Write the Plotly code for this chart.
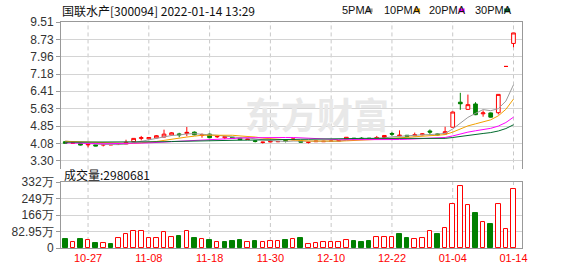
import plotly.graph_objects as go

# ---------------- data ----------------
dates = ["10-22", "10-25", "10-26", "10-27", "10-28", "10-29",
         "11-01", "11-02", "11-03", "11-04", "11-05",
         "11-08", "11-09", "11-10", "11-11", "11-12",
         "11-15", "11-16", "11-17", "11-18", "11-19",
         "11-22", "11-23", "11-24", "11-25", "11-26",
         "11-29", "11-30",
         "12-01", "12-02", "12-03",
         "12-06", "12-07", "12-08", "12-09", "12-10",
         "12-13", "12-14", "12-15", "12-16", "12-17",
         "12-20", "12-21", "12-22", "12-23", "12-24",
         "12-27", "12-28", "12-29", "12-30", "12-31",
         "01-04", "01-05", "01-06", "01-07",
         "01-10", "01-11", "01-12", "01-13", "01-14"]

opens = [4.15, 4.08, 4.07, 4.01, 4.01, 4.00, 4.01, 4.03, 4.05, 4.15,
         4.30, 4.28, 4.32, 4.36, 4.45, 4.50, 4.52, 4.58, 4.43, 4.49,
         4.37, 4.33, 4.35, 4.31, 4.25, 4.19, 4.12, 4.14, 4.15, 4.21,
         4.24, 4.19, 4.12, 4.15, 4.15, 4.16, 4.18, 4.27, 4.31, 4.31,
         4.31, 4.31, 4.34, 4.52, 4.41, 4.44, 4.42, 4.46, 4.63, 4.50,
         4.50, 4.80, 5.92, 5.60, 5.84, 5.40, 5.44, 5.45, 7.52, 8.55]
highs = [4.18, 4.12, 4.08, 4.05, 4.02, 4.04, 4.05, 4.06, 4.24, 4.31,
         4.41, 4.36, 4.45, 4.69, 4.58, 4.55, 4.81, 4.61, 4.52, 4.51,
         4.41, 4.40, 4.36, 4.33, 4.29, 4.21, 4.15, 4.19, 4.18, 4.24,
         4.29, 4.20, 4.15, 4.19, 4.19, 4.20, 4.22, 4.36, 4.32, 4.35,
         4.32, 4.41, 4.45, 4.58, 4.66, 4.45, 4.56, 4.53, 4.70, 4.52,
         4.82, 5.50, 6.34, 6.26, 5.92, 5.55, 5.46, 6.28, 7.52, 9.02]
lows = [4.07, 4.06, 3.98, 3.90, 3.95, 3.94, 4.00, 4.01, 4.04, 4.14,
        4.21, 4.25, 4.30, 4.34, 4.43, 4.35, 4.40, 4.44, 4.33, 4.32,
        4.32, 4.27, 4.29, 4.23, 4.23, 4.12, 4.07, 4.12, 4.13, 4.12,
        4.22, 4.12, 4.07, 4.14, 4.14, 4.15, 4.17, 4.25, 4.26, 4.25,
        4.27, 4.30, 4.33, 4.41, 4.40, 4.38, 4.40, 4.44, 4.44, 4.44,
        4.48, 4.78, 5.58, 5.58, 5.34, 5.27, 5.23, 5.37, 7.52, 8.38]
closes = [4.08, 4.10, 4.00, 4.04, 3.96, 4.03, 4.02, 4.05, 4.12, 4.30,
          4.33, 4.34, 4.42, 4.49, 4.55, 4.46, 4.57, 4.46, 4.47, 4.33,
          4.39, 4.38, 4.30, 4.24, 4.27, 4.17, 4.13, 4.17, 4.16, 4.16,
          4.27, 4.13, 4.13, 4.18, 4.17, 4.18, 4.20, 4.35, 4.27, 4.28,
          4.29, 4.34, 4.43, 4.49, 4.44, 4.39, 4.46, 4.50, 4.58, 4.46,
          4.60, 5.48, 5.85, 5.81, 5.36, 5.44, 5.25, 6.27, 7.52, 9.02]

ma5 = [4.18, 4.14, 4.10, 4.07, 4.04, 4.03, 4.01, 4.02, 4.04, 4.11,
       4.17, 4.23, 4.30, 4.38, 4.43, 4.45, 4.50, 4.51, 4.50, 4.46,
       4.44, 4.40, 4.37, 4.33, 4.32, 4.27, 4.22, 4.20, 4.18, 4.16,
       4.18, 4.18, 4.17, 4.17, 4.18, 4.16, 4.17, 4.22, 4.23, 4.26,
       4.28, 4.31, 4.32, 4.37, 4.40, 4.42, 4.44, 4.46, 4.47, 4.48,
       4.52, 4.72, 4.99, 5.24, 5.42, 5.59, 5.54, 5.63, 5.97, 6.70]
ma10 = [4.17, 4.16, 4.14, 4.12, 4.10, 4.09, 4.08, 4.07, 4.07, 4.07,
        4.10, 4.12, 4.16, 4.21, 4.27, 4.31, 4.36, 4.40, 4.44, 4.44,
        4.45, 4.45, 4.44, 4.41, 4.39, 4.36, 4.31, 4.28, 4.25, 4.24,
        4.23, 4.20, 4.18, 4.18, 4.17, 4.17, 4.18, 4.19, 4.20, 4.22,
        4.22, 4.24, 4.27, 4.30, 4.33, 4.35, 4.37, 4.39, 4.42, 4.44,
        4.47, 4.58, 4.73, 4.86, 4.95, 5.05, 5.13, 5.31, 5.60, 6.06]
ma20 = [4.10, 4.10, 4.09, 4.08, 4.07, 4.06, 4.06, 4.06, 4.06, 4.07,
        4.09, 4.10, 4.12, 4.14, 4.16, 4.18, 4.20, 4.22, 4.24, 4.26,
        4.27, 4.29, 4.30, 4.31, 4.33, 4.33, 4.34, 4.34, 4.35, 4.34,
        4.34, 4.33, 4.31, 4.30, 4.28, 4.26, 4.24, 4.24, 4.23, 4.23,
        4.22, 4.22, 4.23, 4.24, 4.25, 4.26, 4.28, 4.29, 4.31, 4.33,
        4.34, 4.41, 4.50, 4.58, 4.64, 4.70, 4.75, 4.85, 5.01, 5.25]
ma30 = [4.13, 4.13, 4.12, 4.12, 4.12, 4.12, 4.12, 4.12, 4.12, 4.13,
        4.13, 4.14, 4.14, 4.15, 4.16, 4.17, 4.17, 4.18, 4.19, 4.19,
        4.20, 4.21, 4.21, 4.22, 4.22, 4.23, 4.23, 4.24, 4.24, 4.25,
        4.26, 4.26, 4.26, 4.27, 4.27, 4.28, 4.28, 4.29, 4.30, 4.30,
        4.30, 4.30, 4.30, 4.30, 4.29, 4.29, 4.29, 4.29, 4.29, 4.30,
        4.30, 4.34, 4.39, 4.45, 4.48, 4.52, 4.56, 4.63, 4.74, 4.91]

# volume in 万 (10k lots)
volumes = [45, 29, 45, 40, 24, 23, 19, 49, 68, 87,
           87, 49, 49, 78, 53, 58, 87, 49, 43, 39,
           28, 29, 35, 39, 28, 35, 28, 34, 34, 40,
           43, 49, 18, 23, 28, 28, 28, 42, 34, 29,
           34, 57, 57, 54, 68, 49, 44, 49, 83, 68,
           100, 219, 311, 214, 175, 130, 122, 219, 97, 298.0681]
vol_up = [0, 1, 0, 1, 0, 1, 0, 1, 1, 1,
          1, 1, 1, 1, 1, 0, 1, 0, 1, 0,
          1, 0, 0, 0, 1, 0, 1, 1, 1, 0,
          1, 0, 1, 1, 1, 1, 1, 1, 0, 0,
          0, 1, 1, 1, 0, 0, 1, 1, 1, 0,
          1, 1, 1, 1, 0, 1, 0, 1, 1, 1]
last_volume = 2980681

x_tick_labels = ["10-27", "11-08", "11-18", "11-30", "12-10", "12-22", "01-04", "01-14"]
price_ticks = [3.30, 4.08, 4.85, 5.63, 6.41, 7.18, 7.96, 8.73, 9.51]
price_tick_labels = ["3.30", "4.08", "4.85", "5.63", "6.41", "7.18", "7.96", "8.73", "9.51"]
vol_ticks = [0, 82.95, 166, 249, 332]
vol_tick_labels = ["0", "82.95万", "166万", "249万", "332万"]

stock_title = "国联水产[300094] 2022-01-14 13:29"
ma_names = ["5PMA", "10PMA", "20PMA", "30PMA"]

# ---------------- styles ----------------
RED = "#ff0000"
GREEN = "#008000"
MA_COLORS = ["#9c9c9c", "#f2a000", "#ff00ff", "#006b2e"]
GRID = "#d4d4d4"
VGRID = "#c8c8c8"
AXIS = "#999999"

W, H = 578, 276
ML, MR, MT, MB = 56, 56, 22, 21
PW = W - ML - MR
PH = H - MT - MB


def px(xp):
    return (xp - ML) / PW


def py(yp):
    return (H - MB - yp) / PH


xs = list(range(len(dates)))
tick_idx = [dates.index(d) for d in x_tick_labels]

fig = go.Figure()

fig.add_trace(go.Candlestick(
    x=xs, open=opens, high=highs, low=lows, close=closes,
    increasing=dict(line=dict(color=RED, width=1), fillcolor="#ffffff"),
    decreasing=dict(line=dict(color=GREEN, width=1), fillcolor=GREEN),
    whiskerwidth=0, xaxis="x", yaxis="y", showlegend=False, hoverinfo="skip",
))

for vals, col in zip([ma5, ma10, ma20, ma30], MA_COLORS):
    fig.add_trace(go.Scatter(x=xs, y=vals, mode="lines", line=dict(color=col, width=1),
                             xaxis="x", yaxis="y", showlegend=False, hoverinfo="skip"))

fig.add_trace(go.Bar(
    x=xs, y=volumes, width=0.6,
    marker=dict(color=["#ffffff" if u else GREEN for u in vol_up],
                line=dict(color=[RED if u else GREEN for u in vol_up], width=1)),
    xaxis="x2", yaxis="y2", showlegend=False, hoverinfo="skip",
))

xr = [-0.56, 60.12]
fig.update_layout(
    width=W, height=H,
    margin=dict(l=ML, r=MR, t=MT, b=MB, pad=0),
    paper_bgcolor="white", plot_bgcolor="white",
    bargap=0,
    xaxis=dict(domain=[0, 1], range=xr, anchor="y", side="top",
               showline=True, linecolor=AXIS, linewidth=1,
               showticklabels=False, ticks="", showgrid=False,
               zeroline=False, rangeslider=dict(visible=False), fixedrange=True),
    yaxis=dict(domain=[py(174), 1], range=[2.91, 9.51], anchor="x",
               tickvals=price_ticks, ticktext=price_tick_labels,
               showline=True, mirror=True, linecolor=AXIS, linewidth=1,
               ticks="outside", ticklen=4, tickcolor=AXIS,
               showgrid=True, gridcolor=GRID, gridwidth=1, zeroline=False,
               tickfont=dict(family="Liberation Sans", size=12, color="#333333")),
    xaxis2=dict(domain=[0, 1], range=xr, anchor="y2",
                showline=True, mirror=True, linecolor=AXIS, linewidth=1,
                tickvals=tick_idx, ticktext=x_tick_labels, ticks="", showgrid=False,
                zeroline=False, tickfont=dict(family="Liberation Sans", size=11, color=RED)),
    yaxis2=dict(domain=[0, py(187)], range=[0, 332], anchor="x2",
                tickvals=vol_ticks, ticktext=vol_tick_labels,
                showline=True, mirror=True, linecolor=AXIS, linewidth=1,
                ticks="outside", ticklen=4, tickcolor=AXIS,
                showgrid=True, gridcolor=GRID, gridwidth=1, zeroline=False,
                tickfont=dict(family="Liberation Sans", size=12, color="#333333")),
)

# dashed vertical grid lines at date labels, in both panels
for ti in tick_idx:
    fig.add_shape(type="line", xref="x", yref="y domain", x0=ti, x1=ti, y0=0, y1=1,
                  line=dict(color=VGRID, width=1, dash="4px,3px"), layer="below")
    fig.add_shape(type="line", xref="x2", yref="y2 domain", x0=ti, x1=ti, y0=0, y1=1,
                  line=dict(color=VGRID, width=1, dash="4px,3px"), layer="below")

# watermark
fig.add_annotation(x=px(315), y=py(87), xref="paper", yref="paper", text="<b>东方财富</b>",
                   showarrow=False, font=dict(family="Noto Sans CJK SC", size=36, color="#e8e8e8"))

# title
fig.add_annotation(x=px(55), y=py(10), xref="paper", yref="paper", text=stock_title,
                   xanchor="left", yanchor="middle", showarrow=False,
                   font=dict(family="Noto Sans CJK SC", size=12, color="#111111"))

# legend
leg_x = [338, 380, 426, 472]
sq_x = [365, 413, 458, 504]
for name, col, lx, sx in zip(ma_names, MA_COLORS, leg_x, sq_x):
    fig.add_annotation(x=px(lx), y=py(10), xref="paper", yref="paper", text=name,
                       xanchor="left", yanchor="middle", showarrow=False,
                       font=dict(family="Liberation Sans", size=11, color="#111111"))
    fig.add_shape(type="rect", xref="paper", yref="paper",
                  x0=px(sx), x1=px(sx + 6), y0=py(12), y1=py(8),
                  fillcolor=col, line=dict(width=0))

# volume label
fig.add_annotation(x=px(57), y=py(179), xref="paper", yref="paper",
                   text="成交量:" + str(last_volume),
                   xanchor="left", yanchor="middle", showarrow=False,
                   font=dict(family="Noto Sans CJK SC", size=12, color="#111111"))

fig.write_html("out.html")
